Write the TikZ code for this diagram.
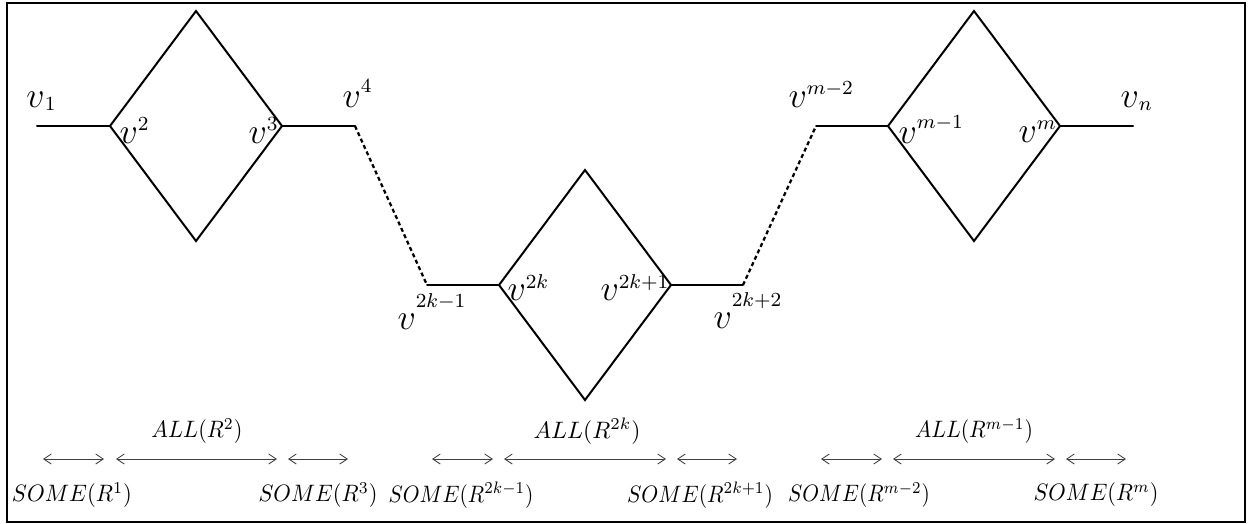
\documentclass[tikz,border=0pt]{standalone}
\usetikzlibrary{arrows.meta}
\newcommand\fitw[2]{\resizebox{#1pt}{0.95\height}{$#2$}}
\newcommand\bigv{\mbox{\fontsize{13.3}{16}\selectfont$v$}}
\newcommand\scr[1]{\mbox{\fontsize{8}{9}\selectfont$#1$}}
\newcommand\vsp[2]{$\bigv\raisebox{#1}{\scr{#2}}$}
\newcommand\vsb[2]{$\bigv\raisebox{-#1}{\scr{#2}}$}
\begin{document}
\begin{tikzpicture}[x=0.4pt,y=-0.4pt,
  edge/.style={line width=0.8pt,line cap=round,line join=miter},
  dotted edge/.style={line width=0.9pt,dash pattern=on 1.6pt off 1.2pt},
  span/.style={line width=0.35pt,draw=black!75,{Straight Barb[length=3pt,width=4pt]}-{Straight Barb[length=3pt,width=4pt]}},
  lab/.style={inner sep=0pt},
  vlab/.style={inner sep=0pt,anchor=base west}]
\useasboundingbox (0,0) rectangle (1248,523);
\draw[line width=0.6pt] (7,3) rectangle (1245,522);
% vertices
\coordinate (a0) at (37,126);
\coordinate (a1) at (110,126); \coordinate (t1) at (196,11);
\coordinate (a2) at (282,126); \coordinate (b1) at (196,241);
\coordinate (a3) at (355,126);
\coordinate (c0) at (427,285);
\coordinate (c1) at (499,285); \coordinate (t2) at (585,170);
\coordinate (c2) at (671,285); \coordinate (b2) at (585,400);
\coordinate (c3) at (743,285);
\coordinate (d0) at (816,126);
\coordinate (d1) at (888,126); \coordinate (t3) at (974,11);
\coordinate (d2) at (1060,126); \coordinate (b3) at (974,241);
\coordinate (d3) at (1133,126);
% solid lines
\draw[edge] (a0) -- (a1);
\draw[edge] (a1) -- (t1) -- (a2) -- (b1) -- cycle;
\draw[edge] (a2) -- (a3);
\draw[edge] (c0) -- (c1);
\draw[edge] (c1) -- (t2) -- (c2) -- (b2) -- cycle;
\draw[edge] (c2) -- (c3);
\draw[edge] (d0) -- (d1);
\draw[edge] (d1) -- (t3) -- (d2) -- (b3) -- cycle;
\draw[edge] (d2) -- (d3);
% dotted
\draw[dotted edge] (a3) -- (c0);
\draw[dotted edge] (c3) -- (d0);
% vertex labels
\node[vlab] (l1) at (26,107) {\vsb{1.4pt}{1}};
\node[vlab] (l2) at (119,143) {\vsp{5.2pt}{2}};
\node[vlab] (l3) at (248,143) {\vsp{5.2pt}{3}};
\node[vlab] (l4) at (342,107) {\vsp{6pt}{4}};
\node[vlab] (l5) at (397,329) {\vsp{8.8pt}{2k{-}1}};
\node[vlab] (l6) at (507,300) {\vsp{4.8pt}{2k}};
\node[vlab] (l7) at (600,300) {\vsp{4.8pt}{2k{+}1}};
\node[vlab] (l8) at (713,328) {\vsp{8.6pt}{2k{+}2}};
\node[vlab] (l9) at (788,107) {\vsp{5.2pt}{m{-}2}};
\node[vlab] (l10) at (898,143) {\vsp{6pt}{m{-}1}};
\node[vlab] (l11) at (1018,142) {\vsp{5.2pt}{m}};
\node[vlab] (l12) at (1120,107) {\vsb{1.4pt}{n}};
% spans
\foreach \i/\l/\r in {s1/43/104,s2/116/277,s3/288/348,s4/432/493,s5/504/666,s6/677/737,s7/821/882,s8/893/1055,s9/1066/1126}{
  \coordinate (\i l) at (\l,459); \coordinate (\i r) at (\r,459);
  \draw[span] (\i l) -- (\i r);
}
\node[lab] (all1) at (197,431) {\fitw{36.4}{ALL(R^2)}};
\node[lab] (all2) at (587,431) {\fitw{42.8}{ALL(R^{2k})}};
\node[lab] (all3) at (974,431) {\fitw{47.2}{ALL(R^{m-1})}};
\node[lab] (some1) at (72,495) {\fitw{48}{SOME(R^1)}};
\node[lab] (some2) at (318,495) {\fitw{47.6}{SOME(R^3)}};
\node[lab] (some3) at (461,495) {\fitw{58}{SOME(R^{2k-1})}};
\node[lab] (some4) at (700,495) {\fitw{58.4}{SOME(R^{2k+1})}};
\node[lab] (some5) at (859,495) {\fitw{56.8}{SOME(R^{m-2})}};
\node[lab] (some6) at (1096,495) {\fitw{50}{SOME(R^m)}};
\end{tikzpicture}
\end{document}
